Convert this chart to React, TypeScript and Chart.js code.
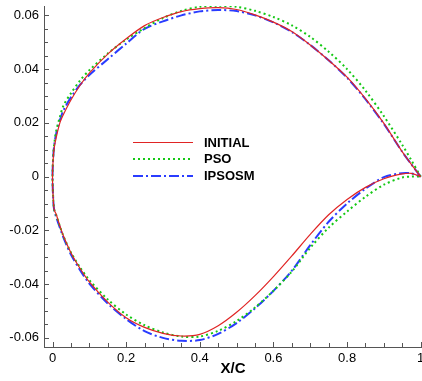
import React, { useEffect, useRef } from "react";
import { Chart, registerables } from "chart.js";

Chart.register(...registerables);

const upperX = [0, 0.0025, 0.005, 0.01, 0.02, 0.03, 0.05, 0.075, 0.1, 0.15, 0.2, 0.25, 0.3, 0.35, 0.4, 0.45, 0.5, 0.55, 0.6, 0.65, 0.7, 0.75, 0.8, 0.85, 0.9, 0.95, 0.975, 1.0];
const lowerX = upperX;

const initialUpper = [0, 0.008, 0.011, 0.0145, 0.02, 0.0232, 0.0285, 0.034, 0.0385, 0.0456, 0.0513, 0.0562, 0.0592, 0.0614, 0.0625, 0.0629, 0.0622, 0.0602, 0.0575, 0.054, 0.049, 0.0433, 0.037, 0.029, 0.0198, 0.0092, 0.0045, 0];
const initialLower = [0, -0.0095, -0.0125, -0.0140, -0.0183, -0.0222, -0.0283, -0.0342, -0.0392, -0.0467, -0.0525, -0.0561, -0.0583, -0.0593, -0.0587, -0.0555, -0.0505, -0.0443, -0.0372, -0.0295, -0.0215, -0.0142, -0.0085, -0.004, -0.0008, 0.001, 0.0012, 0];

const psoUpper = [0, 0.009, 0.0125, 0.017, 0.0222, 0.0265, 0.031, 0.0358, 0.0396, 0.0458, 0.051, 0.0553, 0.059, 0.0617, 0.0632, 0.0636, 0.0632, 0.0617, 0.0594, 0.0563, 0.052, 0.0465, 0.04, 0.032, 0.0225, 0.0118, 0.006, 0];
const psoLower = [0, -0.0095, -0.0125, -0.0142, -0.0185, -0.0222, -0.0282, -0.0338, -0.0385, -0.0457, -0.0513, -0.0553, -0.058, -0.0595, -0.0595, -0.0574, -0.0537, -0.0487, -0.0425, -0.0353, -0.0265, -0.019, -0.013, -0.0075, -0.003, -0.0003, 0, 0];

const ipsosmUpper = [0, 0.0085, 0.012, 0.016, 0.021, 0.0247, 0.0295, 0.0342, 0.0378, 0.0437, 0.0495, 0.055, 0.0578, 0.06, 0.0615, 0.062, 0.0616, 0.06, 0.0574, 0.0538, 0.049, 0.0433, 0.0368, 0.0288, 0.0196, 0.0092, 0.0045, 0];
const ipsosmLower = [0, -0.0098, -0.0128, -0.015, -0.019, -0.0228, -0.029, -0.0348, -0.0398, -0.0472, -0.053, -0.0575, -0.06, -0.0611, -0.0608, -0.0585, -0.0545, -0.049, -0.0425, -0.035, -0.0255, -0.0168, -0.01, -0.0045, -0.0002, 0.0013, 0.0012, 0];

const seriesNames = ["INITIAL", "PSO", "IPSOSM"];
const seriesColors = ["#e02424", "#14c814", "#2a3cff"];
const seriesDash: number[][] = [[], [2, 3], [10, 3, 2, 3]];
const seriesWidth = [1.2, 2, 2];

const xMajor = [0, 0.2, 0.4, 0.6, 0.8, 1];
const yMajor = [-0.06, -0.04, -0.02, 0, 0.02, 0.04, 0.06];

function loop(ux: number[], uy: number[], lx: number[], ly: number[]) {
  const pts: { x: number; y: number }[] = [];
  for (let i = ux.length - 1; i >= 0; i--) pts.push({ x: ux[i], y: uy[i] });
  for (let i = 1; i < lx.length; i++) pts.push({ x: lx[i], y: ly[i] });
  return pts;
}

const FONT = "'Liberation Sans', Arial, sans-serif";

const ticksPlugin = {
  id: "innerTicks",
  afterDraw(chart: any) {
    const ctx = chart.ctx;
    const xs = chart.scales.x;
    const ys = chart.scales.y;
    const ca = chart.chartArea;
    ctx.save();
    ctx.strokeStyle = "#555";
    ctx.lineWidth = 1;
    ctx.beginPath();
    for (let i = 0; i <= 20; i++) {
      const v = i * 0.05;
      const px = Math.round(xs.getPixelForValue(v)) + 0.5;
      const len = i % 4 === 0 ? 5 : 4;
      ctx.moveTo(px, ca.bottom);
      ctx.lineTo(px, ca.bottom - len);
    }
    for (let i = -12; i <= 12; i++) {
      const v = i * 0.005;
      const py = Math.round(ys.getPixelForValue(v)) + 0.5;
      const len = i % 4 === 0 ? 5 : 4;
      ctx.moveTo(ca.left, py);
      ctx.lineTo(ca.left + len, py);
    }
    ctx.stroke();

    // legend
    const lx0 = 133, lx1 = 193, tx = 204;
    const ly = [142.5, 159, 176];
    ctx.font = `bold 13px ${FONT}`;
    ctx.textBaseline = "middle";
    ctx.textAlign = "left";
    for (let i = 0; i < 3; i++) {
      ctx.beginPath();
      ctx.strokeStyle = seriesColors[i];
      ctx.lineWidth = seriesWidth[i];
      ctx.setLineDash(seriesDash[i]);
      ctx.moveTo(lx0, ly[i]);
      ctx.lineTo(lx1, ly[i]);
      ctx.stroke();
      ctx.setLineDash([]);
      ctx.fillStyle = "#000";
      ctx.fillText(seriesNames[i], tx, ly[i] + 0.5);
    }
    ctx.restore();
  },
};

export default function App() {
  const ref = useRef<HTMLCanvasElement | null>(null);
  useEffect(() => {
    document.body.style.margin = "0";
    const canvas = ref.current!;
    const data = [
      loop(upperX, initialUpper, lowerX, initialLower),
      loop(upperX, psoUpper, lowerX, psoLower),
      loop(upperX, ipsosmUpper, lowerX, ipsosmLower),
    ];
    const chart = new Chart(canvas, {
      type: "scatter",
      data: {
        datasets: data.map((d, i) => ({
          label: seriesNames[i],
          data: d,
          showLine: true,
          borderColor: seriesColors[i],
          backgroundColor: seriesColors[i],
          borderWidth: seriesWidth[i],
          borderDash: seriesDash[i],
          pointRadius: 0,
          tension: 0.3,
          fill: false,
        })),
      },
      options: {
        animation: false,
        responsive: false,
        maintainAspectRatio: false,
        layout: { padding: { top: 6, right: 0, left: 0, bottom: 0 } },
        plugins: { legend: { display: false }, tooltip: { enabled: false } },
        scales: {
          x: {
            type: "linear",
            min: -0.0231,
            max: 1.0035,
            afterFit: (s: any) => { s.height = 34; s.paddingLeft = 0; s.paddingRight = 0; },
            afterBuildTicks: (s: any) => { s.ticks = xMajor.map((v) => ({ value: v })); },
            grid: { display: true, drawOnChartArea: false, drawTicks: false },
            border: { display: true, color: "#555", width: 1 },
            ticks: {
              padding: 4,
              color: "#000",
              font: { family: FONT, size: 13 },
              maxRotation: 0,
              autoSkip: false,
              callback: (v: any) => String(Math.round(Number(v) * 10) / 10),
            },
            title: {
              display: true,
              text: "X/C",
              color: "#000",
              font: { family: FONT, size: 15, weight: "bold" },
              padding: { top: 0, bottom: 3 },
            },
          },
          y: {
            type: "linear",
            min: -0.0634,
            max: 0.0635,
            afterFit: (s: any) => { s.width = 44; s.paddingTop = 0; s.paddingBottom = 0; },
            afterBuildTicks: (s: any) => { s.ticks = yMajor.map((v) => ({ value: v })); },
            grid: { display: true, drawOnChartArea: false, drawTicks: false },
            border: { display: true, color: "#555", width: 1 },
            ticks: {
              padding: 5,
              color: "#000",
              font: { family: FONT, size: 13 },
              autoSkip: false,
              callback: (v: any) => {
                const n = Math.round(Number(v) * 100) / 100;
                return n === 0 ? "0" : n.toFixed(2);
              },
            },
          },
        },
      },
      plugins: [ticksPlugin],
    });
    return () => chart.destroy();
  }, []);
  return (
    <div style={{ width: 422, height: 381 }}>
      <canvas ref={ref} width={422} height={381} style={{ display: "block", width: 422, height: 381 }} />
    </div>
  );
}
